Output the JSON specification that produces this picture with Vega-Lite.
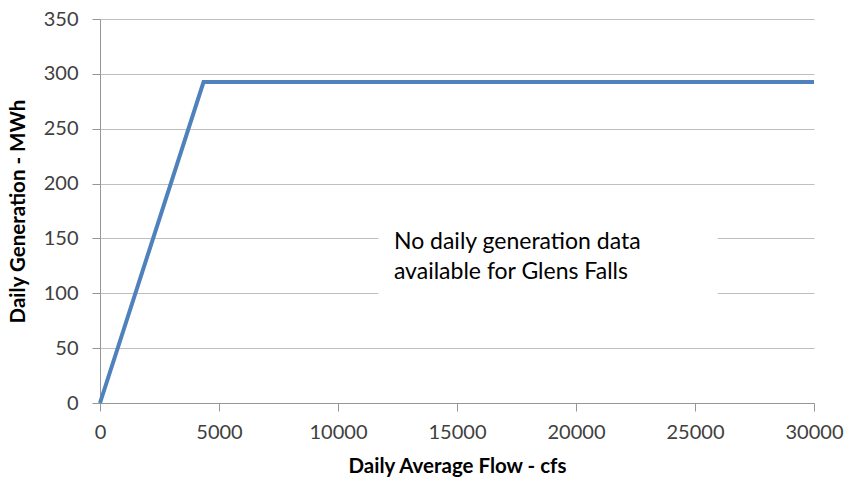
{
  "$schema": "https://vega.github.io/schema/vega-lite/v6.json",
  "width": 714,
  "height": 384,
  "autosize": {"type": "none"},
  "padding": {"left": 100, "top": 19, "right": 33, "bottom": 84},
  "background": "white",
  "config": {
    "view": {"stroke": null},
    "font": "Lato"
  },
  "layer": [
    {
      "data": {"values": [
        {"flow": 0, "gen": 0},
        {"flow": 4350, "gen": 292.5},
        {"flow": 30000, "gen": 292.5}
      ]},
      "mark": {"type": "line", "color": "#4F81BD", "strokeWidth": 4, "strokeJoin": "miter"},
      "encoding": {
        "x": {
          "field": "flow", "type": "quantitative",
          "scale": {"domain": [0, 30000], "nice": false},
          "axis": {
            "title": "Daily Average Flow - cfs",
            "values": [0, 5000, 10000, 15000, 20000, 25000, 30000],
            "format": "d",
            "grid": false,
            "domainColor": "#969696",
            "tickColor": "#969696",
            "tickSize": 8,
            "labelFontSize": 20,
            "labelColor": "#404040",
            "labelPadding": 11,
            "labelFlush": false,
            "titleFontSize": 20.5,
            "titleFontWeight": "bold",
            "titleColor": "#000000",
            "titlePadding": 14
          }
        },
        "y": {
          "field": "gen", "type": "quantitative",
          "scale": {"domain": [0, 350], "nice": false},
          "axis": {
            "title": "Daily Generation - MWh",
            "values": [0, 50, 100, 150, 200, 250, 300, 350],
            "grid": true,
            "gridColor": "#BFBFBF",
            "domainColor": "#969696",
            "tickColor": "#969696",
            "tickSize": 8,
            "labelFontSize": 20,
            "labelColor": "#404040",
            "labelPadding": 14,
            "titleFontSize": 20.5,
            "titleFontWeight": "bold",
            "titleColor": "#000000",
            "titlePadding": 15
          }
        }
      }
    },
    {
      "data": {"values": [{"x1": 11700, "x2": 25950, "y1": 97, "y2": 162}]},
      "mark": {"type": "rect", "color": "white"},
      "encoding": {
        "x": {"field": "x1", "type": "quantitative"},
        "x2": {"field": "x2"},
        "y": {"field": "y1", "type": "quantitative"},
        "y2": {"field": "y2"}
      }
    },
    {
      "data": {"values": [
        {"x": 12350, "y": 146.5, "label": "No daily generation data"},
        {"x": 12350, "y": 119, "label": "available for Glens Falls"}
      ]},
      "mark": {"type": "text", "align": "left", "baseline": "middle", "fontSize": 23, "color": "#000000"},
      "encoding": {
        "x": {"field": "x", "type": "quantitative"},
        "y": {"field": "y", "type": "quantitative"},
        "text": {"field": "label"}
      }
    }
  ]
}
